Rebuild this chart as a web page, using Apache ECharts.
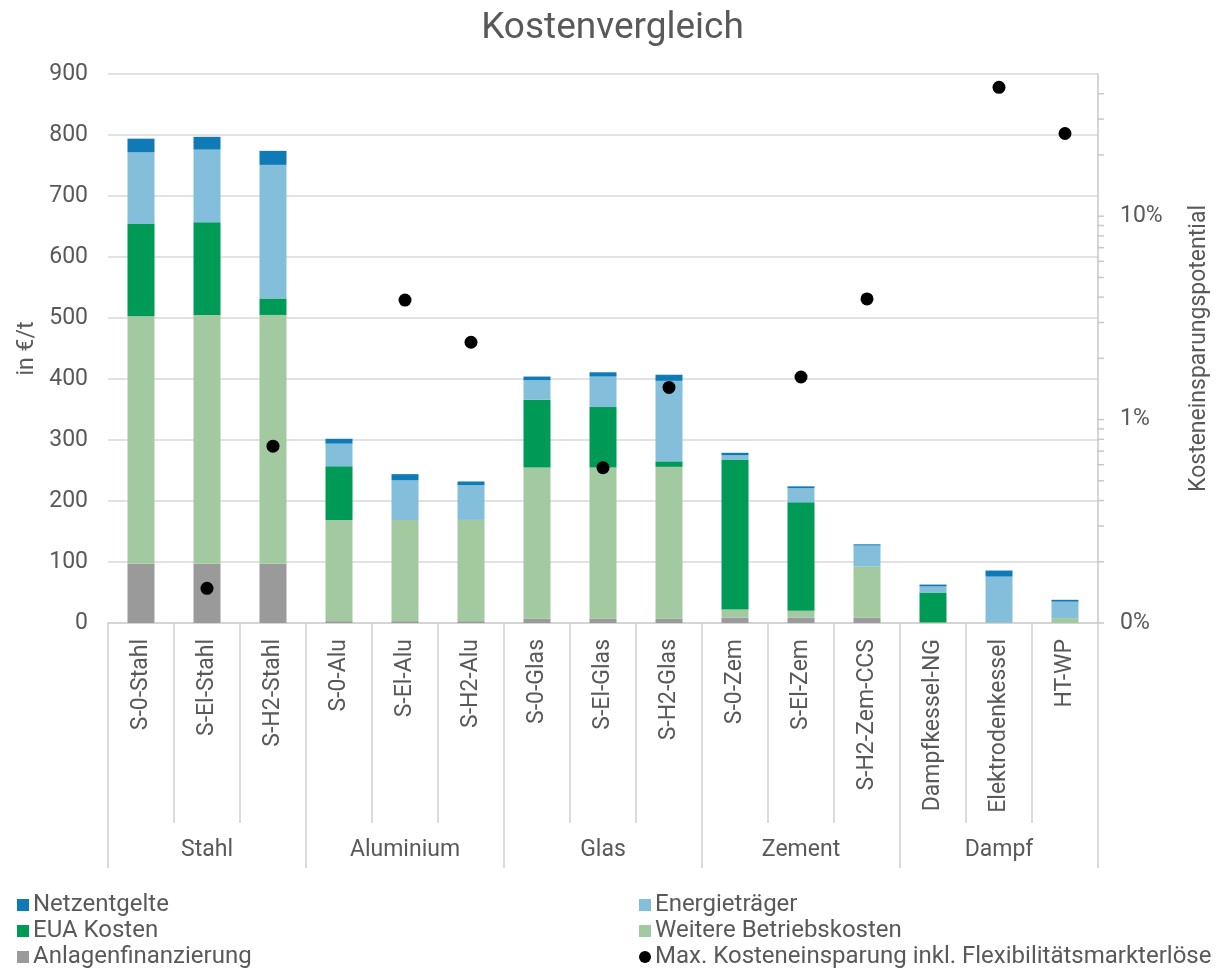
<!DOCTYPE html>
<html>
<head>
<meta charset="utf-8">
<title>Kostenvergleich</title>
<script src="https://cdn.jsdelivr.net/npm/echarts@6/dist/echarts.min.js"></script>
<style>
  html, body { margin: 0; padding: 0; background: #ffffff; }
  #chart { width: 1225px; height: 969px; }
</style>
</head>
<body>
<div id="chart"></div>
<script>
// Technologies (first axis level) and their sectors (second axis level)
const categories = ['S-0-Stahl', 'S-El-Stahl', 'S-H2-Stahl', 'S-0-Alu', 'S-El-Alu', 'S-H2-Alu',
  'S-0-Glas', 'S-El-Glas', 'S-H2-Glas', 'S-0-Zem', 'S-El-Zem', 'S-H2-Zem-CCS',
  'Dampfkessel-NG', 'Elektrodenkessel', 'HT-WP'];
const groups = ['Stahl', 'Aluminium', 'Glas', 'Zement', 'Dampf'];

// Cost components in €/t, stacked bottom to top
const anlagenfinanzierung = [97, 97, 97, 3, 3, 3, 7, 7, 7, 9, 9, 9, 0, 0, 0];
const weitereBetriebskosten = [406, 408, 408, 166, 166, 166, 248, 248, 249, 13, 11, 84, 1, 1, 8];
const euaKosten = [152, 152, 27, 88, 0, 0, 111, 99, 9, 246, 178, 0, 49, 0, 0];
const energietraeger = [117, 119, 219, 37, 65, 57, 32, 50, 132, 7, 23, 34, 10, 75, 27];
const netzentgelte = [22, 21, 23, 8, 10, 6, 6, 7, 10, 4, 3, 2, 3, 10, 3];

// Maximum saving incl. flexibility market revenues, in percent (log axis)
const maxEinsparung = [null, 0.148, 0.74, null, 3.87, 2.4, null, 0.58, 1.44, null, 1.62, 3.92, null, 43, 25.5];

// Tick marks of the logarithmic percentage axis
const logTicks = [0.1, 0.2, 0.3, 0.4, 0.5, 0.6, 0.7, 0.8, 0.9,
  1, 2, 3, 4, 5, 6, 7, 8, 9, 10, 20, 30, 40];
const logLabels = { '0.1': '0%', '1': '1%', '10': '10%' };

// Legend entries: two columns of three rows
const legendLeft = ['Netzentgelte', 'EUA Kosten', 'Anlagenfinanzierung'];
const legendRight = ['Energieträger', 'Weitere Betriebskosten', 'Max. Kosteneinsparung inkl. Flexibilitätsmarkterlöse'];

const TXT = '#595959';
const LINE = '#d0d0d0';
const FONT = 'Roboto';
const SCATTER_NAME = legendRight[2];

const chart = echarts.init(document.getElementById('chart'), null, { renderer: 'canvas' });

function barSeries(name, data, color) {
  return {
    name: name,
    type: 'bar',
    stack: 'kosten',
    data: data,
    barWidth: 27,
    itemStyle: { color: color },
    emphasis: { disabled: true }
  };
}

function legendItem(name, left, row) {
  return {
    data: [{ name: name, icon: name === SCATTER_NAME ? 'circle' : 'rect' }],
    left: left,
    top: 893 + row * 26,
    padding: 0,
    itemWidth: 12,
    itemHeight: 12,
    selectedMode: false,
    textStyle: { fontFamily: FONT, fontSize: 24, lineHeight: 24, color: TXT, padding: [0, 0, 0, -1] }
  };
}

const legends = [];
legendLeft.forEach(function (n, i) { legends.push(legendItem(n, 17, i)); });
legendRight.forEach(function (n, i) { legends.push(legendItem(n, 639, i)); });

const option = {
  animation: false,
  backgroundColor: '#ffffff',
  textStyle: { fontFamily: FONT },
  title: {
    text: 'Kostenvergleich',
    left: 'center',
    top: 5,
    textStyle: { fontFamily: FONT, fontSize: 37, fontWeight: 'normal', color: TXT }
  },
  legend: legends,
  grid: { left: 108, right: 127, top: 74, bottom: 346, containLabel: false },
  xAxis: [
    {
      type: 'category',
      data: categories,
      position: 'bottom',
      axisLine: { show: true, onZero: false, lineStyle: { color: LINE, width: 1.5 } },
      axisTick: { show: true, interval: 0, length: 200, lineStyle: { color: LINE, width: 1.5 } },
      axisLabel: { interval: 0, rotate: 90, margin: 16, fontFamily: FONT, fontSize: 23, color: TXT }
    },
    {
      type: 'category',
      data: groups,
      position: 'bottom',
      axisLine: { show: false, onZero: false },
      axisTick: { show: true, interval: 0, length: 245, lineStyle: { color: LINE, width: 1.5 } },
      axisLabel: { interval: 0, margin: 216, fontFamily: FONT, fontSize: 23, color: TXT }
    }
  ],
  yAxis: [
    {
      type: 'value',
      min: 0,
      max: 900,
      interval: 100,
      name: 'in €/t',
      nameLocation: 'middle',
      nameGap: 66,
      nameTextStyle: { fontFamily: FONT, fontSize: 23, color: TXT },
      axisLine: { show: false },
      axisTick: { show: false },
      axisLabel: { margin: 20, fontFamily: FONT, fontSize: 23, color: TXT },
      splitLine: { show: true, lineStyle: { color: '#d9d9d9', width: 1.5 } }
    },
    {
      type: 'log',
      logBase: 10,
      min: 0.1,
      max: 50,
      position: 'right',
      name: 'Kosteneinsparungspotential',
      nameLocation: 'middle',
      nameGap: 90,
      nameTextStyle: { fontFamily: FONT, fontSize: 23, color: TXT },
      axisLine: { show: true, lineStyle: { color: '#c8c8c8', width: 1.5 } },
      axisTick: { show: false },
      splitLine: { show: false },
      axisLabel: {
        margin: 22,
        fontFamily: FONT,
        fontSize: 23,
        color: TXT,
        formatter: function (v) {
          for (const k in logLabels) {
            if (Math.abs(v - Number(k)) < 1e-6 * Number(k)) return logLabels[k];
          }
          return '';
        }
      }
    }
  ],
  series: [
    barSeries('Anlagenfinanzierung', anlagenfinanzierung, '#9a9a9a'),
    barSeries('Weitere Betriebskosten', weitereBetriebskosten, '#a3c9a0'),
    barSeries('EUA Kosten', euaKosten, '#009a57'),
    barSeries('Energieträger', energietraeger, '#83bedb'),
    barSeries('Netzentgelte', netzentgelte, '#0f7ab6'),
    {
      name: SCATTER_NAME,
      type: 'scatter',
      yAxisIndex: 1,
      data: maxEinsparung,
      symbol: 'circle',
      symbolSize: 13,
      itemStyle: { color: '#000000', opacity: 1 },
      emphasis: { disabled: true },
      z: 5
    },
    {
      // tick marks on the right-hand log axis
      name: 'logTicks',
      type: 'custom',
      yAxisIndex: 1,
      silent: true,
      data: logTicks.map(function (v) { return [categories.length - 1, v]; }),
      renderItem: function (params, api) {
        const p = api.coord([api.value(0), api.value(1)]);
        const half = api.size([1, 0])[0] / 2;
        const x = p[0] + half;
        return {
          type: 'line',
          shape: { x1: x - 1, y1: p[1], x2: x + 6, y2: p[1] },
          style: { stroke: '#c8c8c8', lineWidth: 1.5 }
        };
      },
      z: 1
    }
  ]
};

chart.setOption(option);
</script>
</body>
</html>
